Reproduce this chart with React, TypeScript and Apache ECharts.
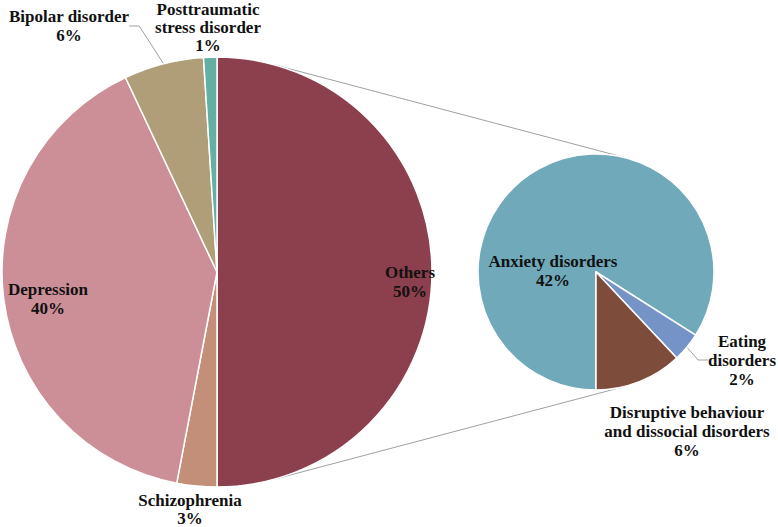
import React, { useEffect, useRef } from 'react';
import * as echarts from 'echarts';

// ---- data ----
const mainNames = ['Others', 'Schizophrenia', 'Depression', 'Bipolar disorder', 'Posttraumatic stress disorder'];
const mainValues = [50, 3, 40, 6, 1];
const mainLabelText = ['Others', 'Schizophrenia', 'Depression', 'Bipolar disorder', 'Posttraumatic\nstress disorder'];

const subNames = ['Anxiety disorders', 'Eating disorders', 'Disruptive behaviour and dissocial disorders'];
const subValues = [42, 2, 6];
const subLabelText = ['Anxiety disorders', 'Eating\ndisorders', 'Disruptive behaviour\nand dissocial disorders'];

// ---- styles / layout ----
const mainColors = ['#8C3F4C', '#C48F79', '#CC8F97', '#B09E79', '#64AFA3'];
const subColors = ['#70AABA', '#7593C7', '#7E4C3A'];
const mainLabelPos = [[410, 282], [190, 509], [48, 299], [69, 26], [208, 27]];
const mainLineHeight = [19, 18, 19, 19, 18];
const subLabelPos = [[553, 271], [742, 360], [687, 431]];
const mainLine = [false, false, false, true, false];
const subLine = [false, true, false];

const MAIN = { cx: 217, cy: 272, r: 215 };
const SUB = { cx: 596, cy: 272, r: 118 };

const FONT = 'Liberation Serif, Times New Roman, serif';

export default function App() {
  const ref = useRef<HTMLDivElement>(null);
  useEffect(() => {
    document.body.style.margin = '0';
    const chart = echarts.init(ref.current!, null, { renderer: 'svg' });

    // external tangent connector lines
    const d = SUB.cx - MAIN.cx;
    const th = Math.acos((MAIN.r - SUB.r) / d);
    const c = Math.cos(th), s = Math.sin(th);
    const lineStyle = { stroke: '#A0A0A0', lineWidth: 1 };
    const connectors = [1, -1].map((sign) => ({
      type: 'line',
      z: 0,
      shape: {
        x1: MAIN.cx + MAIN.r * c, y1: MAIN.cy - sign * MAIN.r * s,
        x2: SUB.cx + SUB.r * c, y2: SUB.cy - sign * SUB.r * s,
      },
      style: lineStyle,
      silent: true,
    }));

    const labelBase = {
      show: true,
      position: 'outside',
      color: '#111',
      fontFamily: FONT,
      fontWeight: 'bold',
      fontSize: 17,
      lineHeight: 19,
      align: 'center',
    };

    chart.setOption({
      animation: false,
      backgroundColor: '#fff',
      graphic: connectors,
      series: [
        {
          type: 'pie',
          center: [MAIN.cx, MAIN.cy],
          radius: MAIN.r,
          startAngle: 90,
          clockwise: true,
          avoidLabelOverlap: false,
          itemStyle: { borderColor: '#fff', borderWidth: 1.5 },
          label: {
            ...labelBase,
            formatter: (p: any) => `${mainLabelText[p.dataIndex]}\n${p.value}%`,
          },
          labelLine: { lineStyle: { color: '#A0A0A0', width: 1 }, length: 10, length2: 10 },
          labelLayout: (p: any) => ({
            x: mainLabelPos[p.dataIndex][0],
            y: mainLabelPos[p.dataIndex][1],
            align: 'center',
            verticalAlign: 'middle',
          }),
          data: mainNames.map((n, i) => ({
            name: n,
            value: mainValues[i],
            itemStyle: { color: mainColors[i] },
            label: { lineHeight: mainLineHeight[i] },
            labelLine: { show: mainLine[i] },
          })),
        },
        {
          type: 'pie',
          center: [SUB.cx, SUB.cy],
          radius: SUB.r,
          startAngle: 270,
          clockwise: true,
          avoidLabelOverlap: false,
          itemStyle: { borderColor: '#fff', borderWidth: 1.5 },
          label: {
            ...labelBase,
            formatter: (p: any) => `${subLabelText[p.dataIndex]}\n${p.value}%`,
          },
          labelLine: { lineStyle: { color: '#A0A0A0', width: 1 }, length: 10, length2: 10 },
          labelLayout: (p: any) => ({
            x: subLabelPos[p.dataIndex][0],
            y: subLabelPos[p.dataIndex][1],
            align: 'center',
            verticalAlign: 'middle',
          }),
          data: subNames.map((n, i) => ({
            name: n,
            value: subValues[i],
            itemStyle: { color: subColors[i] },
            labelLine: { show: subLine[i] },
          })),
        },
      ],
    });
    return () => chart.dispose();
  }, []);
  return <div ref={ref} style={{ width: 778, height: 527 }} />;
}
